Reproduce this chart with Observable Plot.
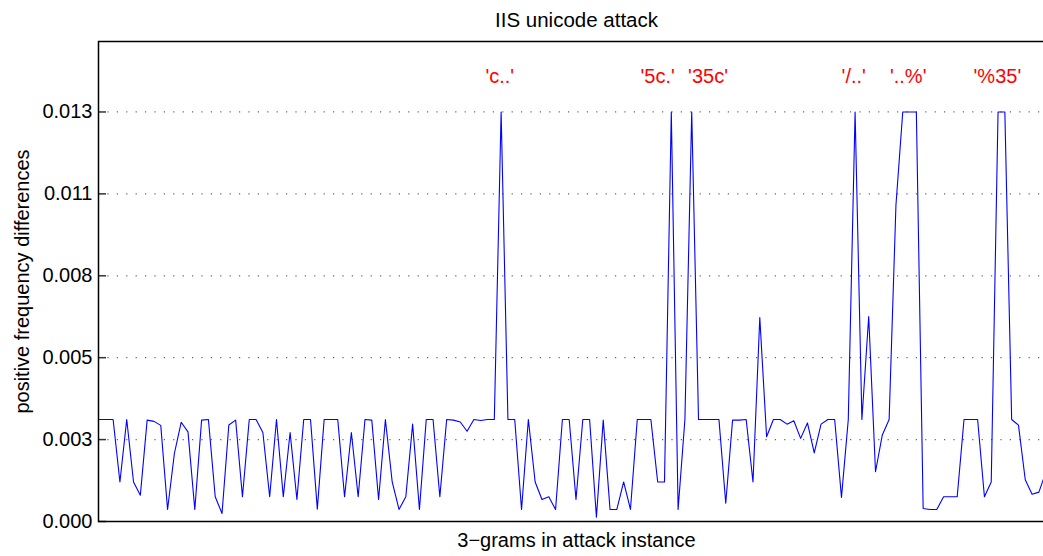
<!DOCTYPE html>
<html><head><meta charset="utf-8">
<script src="https://cdn.jsdelivr.net/npm/d3@7"></script>
<script src="https://cdn.jsdelivr.net/npm/@observablehq/plot@0.6"></script>
<style>html,body{margin:0;padding:0;overflow:hidden;background:#fff}#chart svg{max-width:none !important;display:block}</style>
</head><body><div id="chart"></div>
<script>
const values = [
  0.00330, 0.00330, 0.00330, 0.00128, 0.00330, 0.00128, 0.00085, 0.00328, 0.00324, 0.00311,
  0.00039, 0.00220, 0.00321, 0.00290, 0.00039, 0.00328, 0.00330, 0.00080, 0.00026, 0.00312,
  0.00328, 0.00080, 0.00330, 0.00330, 0.00288, 0.00080, 0.00330, 0.00080, 0.00288, 0.00071,
  0.00330, 0.00330, 0.00040, 0.00330, 0.00330, 0.00330, 0.00080, 0.00288, 0.00080, 0.00330,
  0.00328, 0.00071, 0.00330, 0.00128, 0.00039, 0.00080, 0.00315, 0.00039, 0.00330, 0.00330,
  0.00080, 0.00330, 0.00328, 0.00322, 0.00292, 0.00330, 0.00327, 0.00330, 0.00330, 0.01325,
  0.00330, 0.00330, 0.00039, 0.00330, 0.00128, 0.00071, 0.00080, 0.00039, 0.00330, 0.00330,
  0.00071, 0.00330, 0.00330, 0.00014, 0.00328, 0.00039, 0.00039, 0.00128, 0.00039, 0.00330,
  0.00330, 0.00330, 0.00128, 0.00128, 0.01325, 0.00039, 0.00330, 0.01325, 0.00330, 0.00330,
  0.00330, 0.00330, 0.00059, 0.00328, 0.00328, 0.00330, 0.00128, 0.00660, 0.00274, 0.00330,
  0.00330, 0.00315, 0.00326, 0.00269, 0.00319, 0.00222, 0.00315, 0.00330, 0.00330, 0.00078,
  0.00330, 0.01325, 0.00330, 0.00663, 0.00161, 0.00280, 0.00330, 0.01023, 0.01325, 0.01325,
  0.01325, 0.00042, 0.00039, 0.00039, 0.00080, 0.00080, 0.00080, 0.00330, 0.00330, 0.00330,
  0.00080, 0.00128, 0.01325, 0.01325, 0.00330, 0.00312, 0.00135, 0.00088, 0.00095, 0.00158
];
const tickValues = [0, 0.00265, 0.0053, 0.00795, 0.0106, 0.01325];
const tickLabels = ["0.000", "0.003", "0.005", "0.008", "0.011", "0.013"];
const peakLabels = ["'c..'", "'5c.'", "'35c'", "'/..'", "'..%'", "'%35'"];
const peakLabelX = [58.8, 82.0, 89.4, 110.8, 118.8, 131.9];
const peakLabelY = 0.0144;
const yMax = 0.01553;
const xMax = 140;
const title = "IIS unicode attack";
const xLabel = "3\u2212grams in attack instance";
const yLabel = "positive frequency differences";

const data = values.map((v, i) => ({i, v}));
const labels = peakLabels.map((t, k) => ({t, x: peakLabelX[k], y: peakLabelY}));

const chart = Plot.plot({
  width: 1054,
  height: 556,
  marginLeft: 98,
  marginRight: 0,
  marginTop: 41,
  marginBottom: 35,
  style: {fontFamily: "'Liberation Sans', Arial, sans-serif", fontSize: "20px", background: "#fff", overflow: "visible", maxWidth: "none"},
  x: {domain: [0, xMax], insetLeft: 1, insetRight: 2, axis: null},
  y: {domain: [0, yMax], axis: null},
  marks: [
    Plot.ruleY(tickValues, {stroke: "#666", strokeWidth: 1.2, strokeDasharray: "1.2,8.2"}),
    Plot.axisY({ticks: tickValues, tickFormat: (d, i) => tickLabels[i], tickSize: -8, tickPadding: 14, stroke: "#333", strokeWidth: 1.5, fontSize: 20, fill: "#000", label: null}),
    Plot.line(data, {x: "i", y: "v", stroke: "#0000ff", strokeWidth: 1.1}),
    Plot.text(labels, {x: "x", y: "y", text: "t", fill: "#ff0000", fontSize: 20}),
    Plot.frame({stroke: "#000", strokeWidth: 1.5}),
    Plot.text([title], {frameAnchor: "top", lineAnchor: "middle", dy: -21, fontSize: 20.5, fill: "#000"}),
    Plot.text([xLabel], {frameAnchor: "bottom", lineAnchor: "middle", dy: 19, fontSize: 20, fill: "#000"}),
    Plot.text([yLabel], {frameAnchor: "left", textAnchor: "middle", lineAnchor: "middle", rotate: -90, dx: -76, fontSize: 20, fill: "#000"})
  ]
});
document.getElementById("chart").appendChild(chart);
</script>
</body></html>
